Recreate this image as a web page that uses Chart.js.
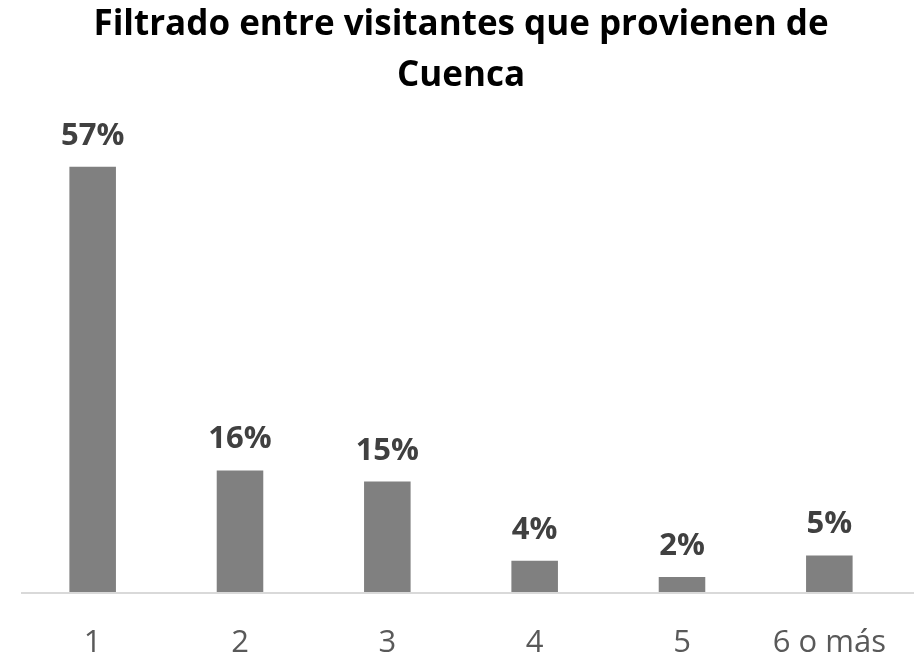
<!DOCTYPE html>
<html>
<head>
<meta charset="utf-8">
<script src="https://cdn.jsdelivr.net/npm/chart.js@4/dist/chart.umd.min.js"></script>
<style>
html,body{margin:0;padding:0;background:#fff;}
#wrap{width:915px;height:660px;}
</style>
</head>
<body>
<div id="wrap"><canvas id="c" width="915" height="660"></canvas></div>
<script>
const titleLines = ["Filtrado entre visitantes que provienen de", "Cuenca"];
const categories = ["1", "2", "3", "4", "5", "6 o más"];
const values = [57, 16.3, 14.8, 4.2, 2.0, 4.9];

const valueLabels = {
  id: 'valueLabels',
  afterDatasetsDraw(chart) {
    const ctx = chart.ctx;
    const meta = chart.getDatasetMeta(0);
    ctx.save();
    ctx.font = 'bold 31px "Open Sans"';
    ctx.fillStyle = '#404040';
    ctx.textAlign = 'center';
    ctx.textBaseline = 'alphabetic';
    meta.data.forEach((bar, i) => {
      ctx.fillText(Math.round(values[i]) + '%', bar.x, bar.y - 22);
    });
    ctx.restore();
  }
};

const baseLine = {
  id: 'baseLine',
  beforeDatasetsDraw(chart) {
    const ctx = chart.ctx;
    const y = chart.scales.y.getPixelForValue(0);
    ctx.save();
    ctx.strokeStyle = '#d9d9d9';
    ctx.lineWidth = 2;
    ctx.beginPath();
    ctx.moveTo(21, y + 1);
    ctx.lineTo(914, y + 1);
    ctx.stroke();
    ctx.restore();
  }
};

new Chart(document.getElementById('c'), {
  type: 'bar',
  data: {
    labels: categories,
    datasets: [{
      data: values,
      backgroundColor: '#808080',
      borderWidth: 0,
      barPercentage: 0.316,
      categoryPercentage: 1
    }]
  },
  options: {
    responsive: false,
    animation: false,
    devicePixelRatio: 1,
    layout: { padding: { left: 19, right: 12, top: 0, bottom: 0 } },
    plugins: {
      legend: { display: false },
      tooltip: { enabled: false },
      title: {
        display: true,
        text: titleLines,
        color: '#000000',
        font: { family: '"Open Sans"', size: 35, weight: 'bold', lineHeight: 1.45 },
        padding: { top: 0, bottom: 42.9 }
      }
    },
    scales: {
      x: {
        grid: { display: false },
        border: { display: false },
        ticks: {
          color: '#595959',
          font: { family: '"Open Sans"', size: 31 },
          padding: 25,
          maxRotation: 0,
          autoSkip: false
        },
        afterFit(scale) { scale.height = 68; }
      },
      y: {
        display: false,
        min: 0,
        max: 60
      }
    }
  },
  plugins: [baseLine, valueLabels]
});
</script>
</body>
</html>
